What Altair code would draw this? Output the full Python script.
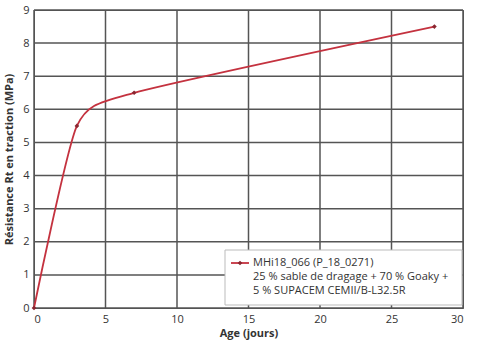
import altair as alt
import pandas as pd

age = [0, 3, 7, 28]
rt = [0, 5.5, 6.5, 8.5]
x_ticks = [0, 5, 10, 15, 20, 25, 30]
y_ticks = [0, 1, 2, 3, 4, 5, 6, 7, 8, 9]
legend_lines = ["MHi18_066 (P_18_0271)",
                "25 % sable de dragage + 70 % Goaky +",
                "5 % SUPACEM CEMII/B-L32.5R"]

df = pd.DataFrame({"age": age, "rt": rt})
FONT = "Open Sans"
LINE = "#c4323f"
MARK = "#8a2630"
GRID = "#555555"

xs = alt.Scale(domain=[0, 30], nice=False, zero=True)
ys = alt.Scale(domain=[0, 9], nice=False)
xax = alt.Axis(values=x_ticks, title="Age (jours)", labelPadding=5, titlePadding=3, grid=False)
yax = alt.Axis(values=y_ticks, title="Résistance Rt en traction (MPa)", labelPadding=5,
               titlePadding=8, grid=False)

xgrid = alt.Chart(pd.DataFrame({"gx": x_ticks})).mark_rule(color=GRID, strokeWidth=1.5, opacity=1).encode(
    x=alt.X("gx:Q", scale=xs, axis=xax))
ygrid = alt.Chart(pd.DataFrame({"gy": y_ticks})).mark_rule(color=GRID, strokeWidth=1.5, opacity=1).encode(
    y=alt.Y("gy:Q", scale=ys, axis=yax))

base = alt.Chart(df)
line = base.mark_line(interpolate="cardinal", tension=0.4, color=LINE, strokeWidth=1.8).encode(
    x=alt.X("age:Q", scale=xs, axis=xax),
    y=alt.Y("rt:Q", scale=ys, axis=yax),
)
pts = base.mark_point(shape="diamond", filled=True, size=22, color=MARK, opacity=1).encode(
    x=alt.X("age:Q", scale=xs, axis=xax), y=alt.Y("rt:Q", scale=ys, axis=yax))

one = pd.DataFrame({"a": [0]})
box = alt.Chart(one).mark_rect(fill="white", stroke="#bbbbbb", strokeWidth=1).encode(
    x=alt.value(191), x2=alt.value(428), y=alt.value(240), y2=alt.value(295))
sym_line = alt.Chart(one).mark_rule(color=LINE, strokeWidth=1.8).encode(
    x=alt.value(197), x2=alt.value(215), y=alt.value(253))
sym_pt = alt.Chart(one).mark_point(shape="diamond", filled=True, size=22, color=MARK, opacity=1).encode(
    x=alt.value(206), y=alt.value(253))
texts = [
    alt.Chart(pd.DataFrame({"t": [s]})).mark_text(align="left", baseline="middle", font=FONT,
                                                   fontSize=11, color="#333333").encode(
        x=alt.value(219), y=alt.value(253 + 14 * i), text="t:N")
    for i, s in enumerate(legend_lines)
]

chart = alt.layer(xgrid, ygrid, line, pts, box, sym_line, sym_pt, *texts).properties(
    width=429, height=298,
    background="white",
    autosize=alt.AutoSizeParams(type="none"),
    padding={"left": 34, "top": 10, "right": 17, "bottom": 38},
).configure_view(stroke=GRID, strokeWidth=1).configure_axis(
    domainColor=GRID, ticks=False,
    labelFont=FONT, labelFontSize=11, labelColor="#333333", labelOverlap=False,
    titleFont=FONT, titleFontSize=11, titleFontWeight="bold", titleColor="#333333",
)

chart.save("out.html", embed_options={"renderer": "svg", "actions": False})
